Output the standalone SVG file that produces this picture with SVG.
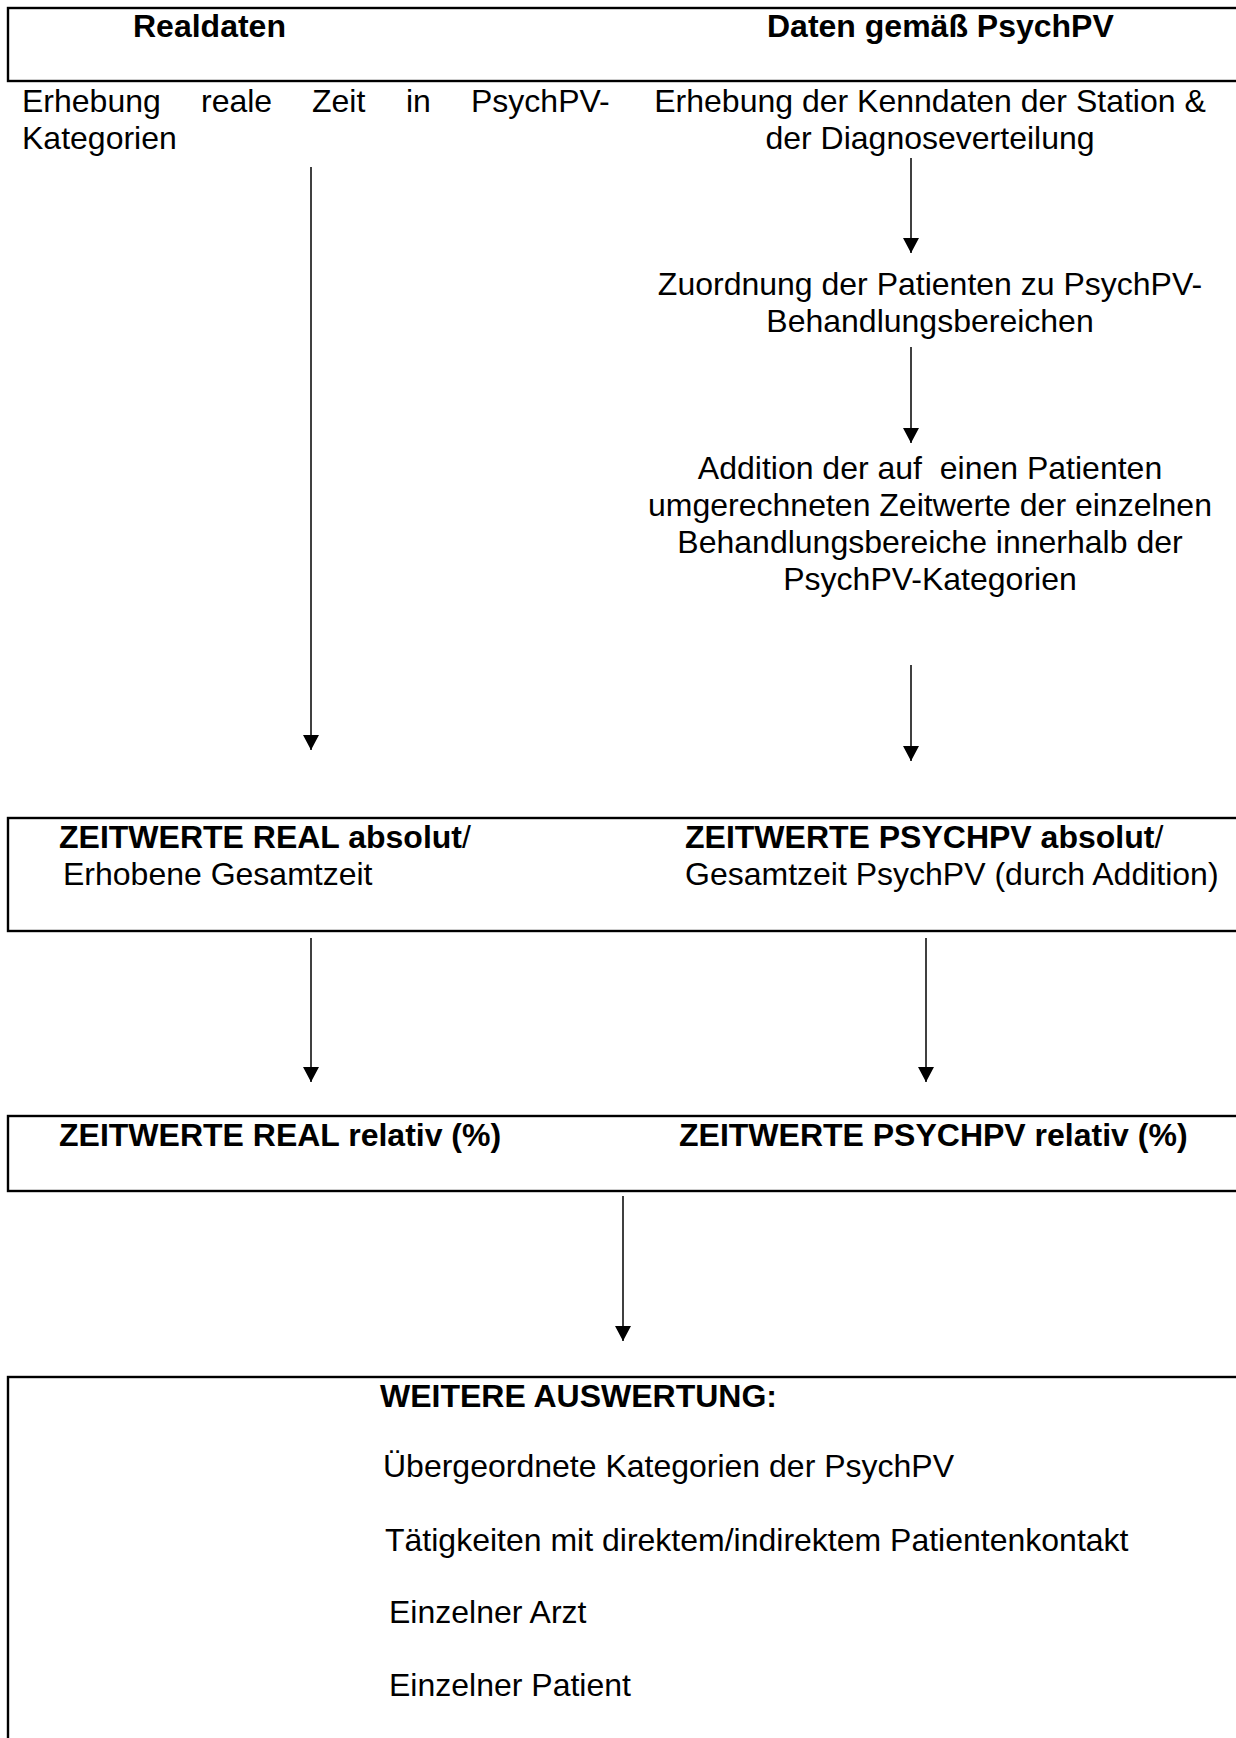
<svg xmlns="http://www.w3.org/2000/svg" width="1236" height="1738" viewBox="0 0 1236 1738">
<style>
  text { font-family: "Liberation Sans", Arial, sans-serif; font-size: 32px; fill: #000; }
  .b { font-weight: bold; }
  .box { fill: none; stroke: #000; stroke-width: 2.4; }
  .conn { stroke: #000; stroke-width: 1.5; fill: none; }
  .mid { text-anchor: middle; }
  .pre { white-space: pre; }
</style>
<defs>
  <marker id="arr" markerUnits="userSpaceOnUse" markerWidth="15" markerHeight="16" viewBox="0 0 15 16" refX="15" refY="8" orient="auto">
    <path d="M0,0 L15,8 L0,16 z" fill="#000"/>
  </marker>
</defs>
<rect width="1236" height="1738" fill="#fff"/>

<g id="n-header">
  <rect class="box" x="8" y="8" width="1240" height="73"/>
  <text class="b" x="133" y="37">Realdaten</text>
  <text class="b" x="767" y="37">Daten gemäß PsychPV</text>
</g>

<g id="n-erhebung-real">
  <text y="112"><tspan x="22">Erhebung</tspan><tspan x="201">reale</tspan><tspan x="312">Zeit</tspan><tspan x="406">in</tspan><tspan x="471">PsychPV-</tspan></text>
  <text x="22" y="149">Kategorien</text>
</g>

<g id="n-kenndaten">
  <text class="mid" x="930" y="112">Erhebung der Kenndaten der Station &amp;</text>
  <text class="mid" x="930" y="149">der Diagnoseverteilung</text>
</g>

<g id="n-zuordnung">
  <text class="mid" x="930" y="295">Zuordnung der Patienten zu PsychPV-</text>
  <text class="mid" x="930" y="332">Behandlungsbereichen</text>
</g>

<g id="n-addition">
  <text class="mid pre" x="930" y="479">Addition der auf  einen Patienten</text>
  <text class="mid" x="930" y="516">umgerechneten Zeitwerte der einzelnen</text>
  <text class="mid" x="930" y="553">Behandlungsbereiche innerhalb der</text>
  <text class="mid" x="930" y="590">PsychPV-Kategorien</text>
</g>

<g id="n-absolut">
  <rect class="box" x="8" y="818" width="1240" height="113"/>
  <text x="59" y="848"><tspan class="b">ZEITWERTE REAL absolut</tspan>/</text>
  <text x="63" y="885">Erhobene Gesamtzeit</text>
  <text x="685" y="848"><tspan class="b">ZEITWERTE PSYCHPV absolut</tspan>/</text>
  <text x="685" y="885">Gesamtzeit PsychPV (durch Addition)</text>
</g>

<g id="n-relativ">
  <rect class="box" x="8" y="1116" width="1240" height="75"/>
  <text class="b" x="59" y="1146">ZEITWERTE REAL relativ (%)</text>
  <text class="b" x="679" y="1146">ZEITWERTE PSYCHPV relativ (%)</text>
</g>

<g id="n-auswertung">
  <rect class="box" x="8" y="1377" width="1240" height="380"/>
  <text class="b" x="380" y="1407">WEITERE AUSWERTUNG:</text>
  <text x="383" y="1477">Übergeordnete Kategorien der PsychPV</text>
  <text x="385" y="1551">Tätigkeiten mit direktem/indirektem Patientenkontakt</text>
  <text x="389" y="1623">Einzelner Arzt</text>
  <text x="389" y="1696">Einzelner Patient</text>
</g>

<g id="connectors">
  <line class="conn" x1="311" y1="167" x2="311" y2="750" marker-end="url(#arr)"/>
  <line class="conn" x1="911" y1="158" x2="911" y2="253" marker-end="url(#arr)"/>
  <line class="conn" x1="911" y1="347" x2="911" y2="443" marker-end="url(#arr)"/>
  <line class="conn" x1="911" y1="665" x2="911" y2="761" marker-end="url(#arr)"/>
  <line class="conn" x1="311" y1="938" x2="311" y2="1082" marker-end="url(#arr)"/>
  <line class="conn" x1="926" y1="938" x2="926" y2="1082" marker-end="url(#arr)"/>
  <line class="conn" x1="623" y1="1196" x2="623" y2="1341" marker-end="url(#arr)"/>
</g>
</svg>
